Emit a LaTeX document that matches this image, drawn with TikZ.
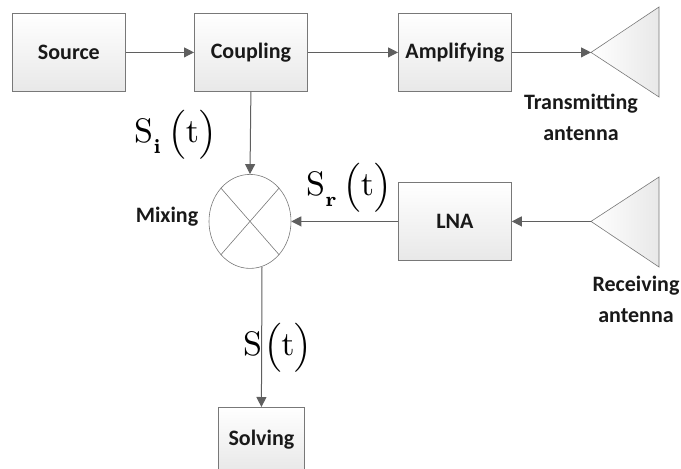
\documentclass[tikz,border=0pt]{standalone}
\usepackage{exscale}
\usepackage{graphicx}
\usepackage{fontspec}
\newfontfamily\labelfont{Carlito}
\usetikzlibrary{arrows.meta,shapes.geometric,shadows}
\definecolor{edgegray}{RGB}{120,120,120}
\definecolor{linegray}{RGB}{95,95,95}
\tikzset{
  x=1pt,y=-1pt,
  boxstyle/.style={draw=edgegray,line width=0.8pt,inner sep=0pt,anchor=north west,
    top color=white,bottom color=black!9,font=\labelfont\bfseries\fontsize{22}{26}\selectfont,text=black!90,
    drop shadow={shadow xshift=1pt,shadow yshift=-1pt,opacity=0.2,fill=black}},
  wirestyle/.style={draw=linegray,line width=1pt,-{Triangle[length=10pt,width=10pt]}},
  antstyle/.style={draw=edgegray,line width=0.6pt,left color=white,right color=black!9},
  lblstyle/.style={font=\labelfont\bfseries\fontsize{22}{31}\selectfont,text=black!90,align=center},
  mathstyle/.style={inner sep=0pt,anchor=base west}
}
\newcommand{\parenpart}[1]{{\fontsize{8.2}{9}\selectfont$\Big#1$}}
% #1 subscript, #2 gap before the bracket
\newcommand{\sigtext}[2]{\scalebox{3.4}{\fontsize{10}{12}\selectfont S\raisebox{-3.5pt}{\fontsize{6}{7}\selectfont\bfseries #1}\kern#2\parenpart{(}t\parenpart{)}}}
\begin{document}
\begin{tikzpicture}
\useasboundingbox (0,0) rectangle (681,469);
\node[boxstyle,minimum width=113pt,minimum height=78pt] (source) at (12,13) {Source};
\node[boxstyle,minimum width=113pt,minimum height=78pt] (coupling) at (194,13) {Coupling};
\node[boxstyle,minimum width=113pt,minimum height=78pt] (amp) at (398,13) {Amplifying};
\node[boxstyle,minimum width=113pt,minimum height=78pt] (lna) at (398,182) {LNA};
\node[boxstyle,minimum width=86pt,minimum height=64pt] (solving) at (218,407) {\raisebox{2pt}{Solving}};
% antennas
\coordinate (txtip) at (591,52.4);
\coordinate (rxtip) at (591,221.4);
\draw[antstyle] (txtip) -- (659,7) -- (659,97) -- cycle;
\draw[antstyle] (rxtip) -- (659,177) -- (659,267) -- cycle;
% mixer
\node[draw=edgegray,line width=0.6pt,ellipse,minimum width=82pt,minimum height=94pt,inner sep=0pt] (mix) at (250,221.4) {};
\draw[edgegray,line width=0.6pt] (mix.north west) -- (mix.south east);
\draw[edgegray,line width=0.6pt] (mix.north east) -- (mix.south west);
% connectors
\draw[wirestyle] (source.east) -- (coupling.west);
\draw[wirestyle] (coupling.east) -- (amp.west);
\draw[wirestyle] (amp.east) -- (txtip);
\draw[wirestyle] (rxtip) -- (lna.east);
\draw[wirestyle] (lna.west) -- (mix.east);
\draw[wirestyle] (coupling.south) -- (mix.north);
\coordinate (mixout) at (262,267);
\draw[wirestyle] (mixout) -- (solving.north);
% labels
\node[lblstyle] (lt) at (581,117) {Transmitting\\antenna};
\node[lblstyle] (lr) at (636,299) {Receiving\\antenna};
\node[lblstyle] (lm) at (167,217) {Mixing};
\node[mathstyle] (si) at (134,142) {\sigtext{i}{2.2pt}};
\node[mathstyle] (sr) at (306,195) {\sigtext{r}{2pt}};
\node[mathstyle] (s) at (243,355) {\sigtext{}{0.6pt}};
\end{tikzpicture}
\end{document}
